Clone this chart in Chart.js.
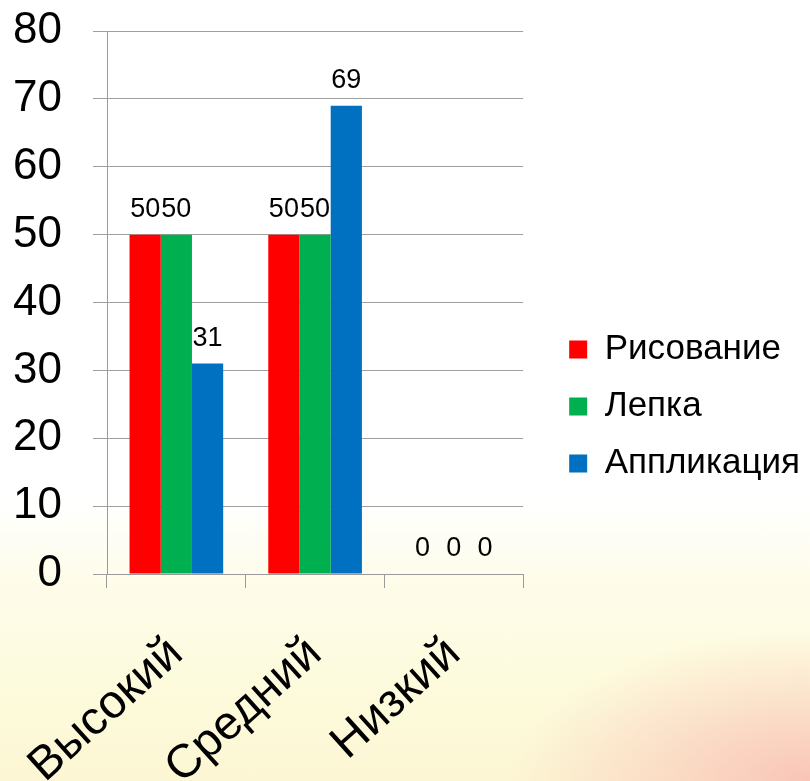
<!DOCTYPE html>
<html>
<head>
<meta charset="utf-8">
<script src="https://cdn.jsdelivr.net/npm/chart.js@4.4.1/dist/chart.umd.min.js"></script>
<style>
html, body { margin: 0; padding: 0; }
body {
  width: 810px; height: 781px; overflow: hidden;
  background:
    radial-gradient(ellipse 300px 150px at 100% 100%, rgba(248,175,170,0.7), rgba(248,175,170,0) 100%),
    linear-gradient(to bottom, #ffffff 0%, #ffffff 64%, #fefcea 74%, #fdfbdc 88%, #fcf6d4 100%);
}
#wrap { position: relative; width: 810px; height: 781px; }
</style>
</head>
<body>
<div id="wrap"><canvas id="c" width="810" height="781"></canvas></div>
<script>
const categories = ['Высокий', 'Средний', 'Низкий'];
const seriesNames = ['Рисование', 'Лепка', 'Аппликация'];
const risovanie = [50, 50, 0];
const lepka = [50, 50, 0];
const applikaciya = [31, 69, 0];
const seriesColors = ['#FF0000', '#00B050', '#0070C0'];
const yMin = 0, yMax = 80, yStep = 10;

const FONT = "'Liberation Sans', Arial, sans-serif";

const valueLabels = {
  id: 'valueLabels',
  afterDatasetsDraw(chart) {
    const ctx = chart.ctx;
    ctx.save();
    ctx.font = '27px ' + FONT;
    ctx.fillStyle = '#000';
    ctx.textAlign = 'center';
    ctx.textBaseline = 'alphabetic';
    chart.data.datasets.forEach((ds, i) => {
      const meta = chart.getDatasetMeta(i);
      meta.data.forEach((el, j) => {
        ctx.fillText(String(ds.data[j]), el.x, el.y - 18);
      });
    });
    ctx.restore();
  }
};

new Chart(document.getElementById('c'), {
  type: 'bar',
  data: {
    labels: categories,
    datasets: [
      { label: seriesNames[0], data: risovanie, backgroundColor: seriesColors[0] },
      { label: seriesNames[1], data: lepka, backgroundColor: seriesColors[1] },
      { label: seriesNames[2], data: applikaciya, backgroundColor: seriesColors[2] }
    ]
  },
  options: {
    responsive: false,
    animation: false,
    devicePixelRatio: 1,
    layout: { padding: { left: 0, top: 31, right: 0, bottom: 0 } },
    datasets: { bar: { categoryPercentage: 0.675, barPercentage: 1.0, borderWidth: 0 } },
    scales: {
      x: {
        offset: true,
        grid: { display: true, offset: true, drawOnChartArea: false, drawTicks: true, tickLength: 14, color: '#9a9a9a', lineWidth: 1 },
        border: { display: true, color: '#9a9a9a' },
        ticks: { color: '#000', font: { family: FONT, size: 47 }, minRotation: 42, maxRotation: 42, padding: 38 },
        afterFit(s) { s.height = 207; s.paddingLeft = 0; s.paddingRight = 0; }
      },
      y: {
        min: yMin, max: yMax,
        grid: { color: '#a0a0a0', tickLength: 14, lineWidth: 1 },
        border: { display: true, color: '#9a9a9a' },
        ticks: { stepSize: yStep, color: '#000', font: { family: FONT, size: 44 }, padding: 31 },
        afterFit(s) { s.width = 107; s.paddingTop = 20; s.paddingBottom = 0; }
      },
      gap: {
        type: 'linear', position: 'right', display: true,
        grid: { display: false }, ticks: { display: false }, border: { display: false },
        afterFit(s) { s.width = 24; }
      }
    },
    plugins: {
      tooltip: { enabled: false },
      legend: {
        position: 'right',
        maxWidth: 400,
        title: { display: true, text: ' ', font: { size: 1 }, padding: { top: 0, bottom: 0 } },
        labels: { boxWidth: 18, boxHeight: 18, padding: 22, color: '#000', font: { family: FONT, size: 35 } }
      }
    }
  },
  plugins: [valueLabels]
});
</script>
</body>
</html>
